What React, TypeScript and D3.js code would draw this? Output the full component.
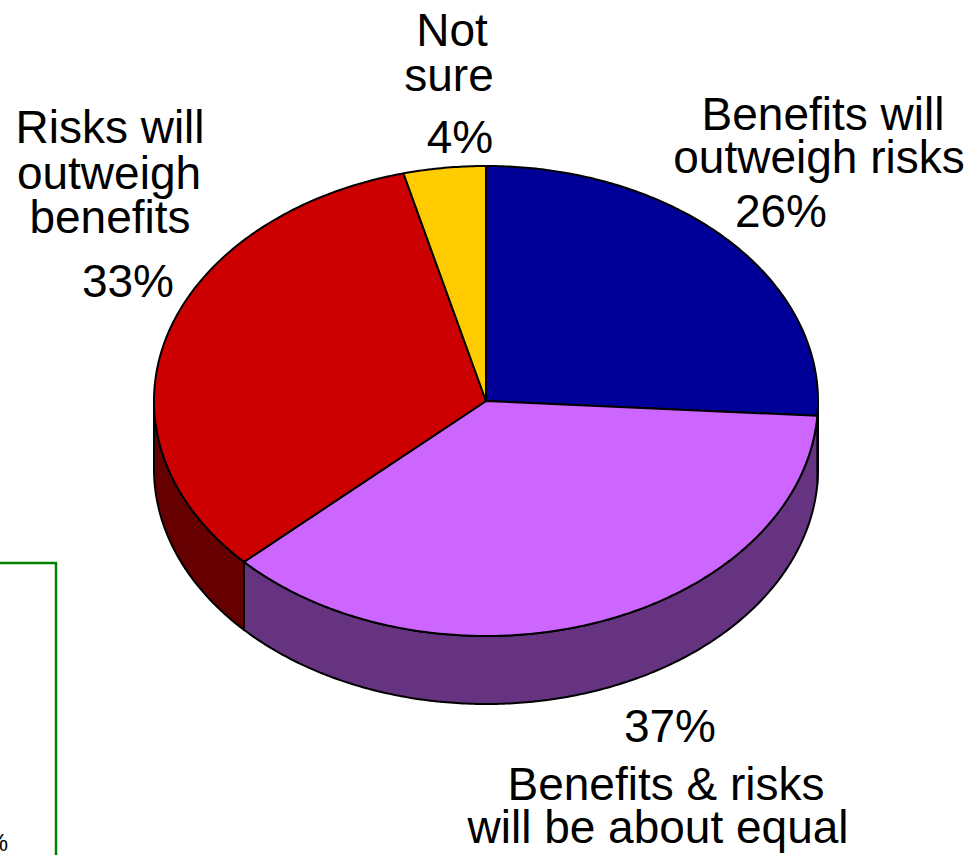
import React from "react";
import * as d3 from "d3";

const categories = [
  "Benefits will outweigh risks",
  "Benefits & risks will be about equal",
  "Risks will outweigh benefits",
  "Not sure",
];
const values = [26, 37, 33, 4];
const topColors = ["#000099", "#CC66FF", "#CC0000", "#FFCC00"];
const sideColors = ["#00004C", "#663380", "#660000", "#806600"];

type Label = { lines: string[]; x: number; ys: number[] };
const labels: Label[] = [
  { lines: ["Benefits will", "outweigh risks", "26%"], x: 0, ys: [] },
  { lines: ["37%", "Benefits & risks", "will be about equal"], x: 0, ys: [] },
  { lines: ["Risks will", "outweigh", "benefits", "33%"], x: 0, ys: [] },
  { lines: ["Not", "sure", "4%"], x: 0, ys: [] },
];
const labelPos = [
  { xs: [823, 819, 781], ys: [130, 173, 227] },
  { xs: [670, 666, 658], ys: [742, 800, 843] },
  { xs: [110, 109, 110, 128], ys: [143, 189, 233, 297] },
  { xs: [452, 449, 460], ys: [46, 91, 153] },
];

const W = 979;
const H = 855;
const cx = 486;
const cy = 401;
const rx = 332;
const ry = 235;
const depth = 68;

function pt(a: number, dy = 0): [number, number] {
  return [cx + rx * Math.sin(a), cy - ry * Math.cos(a) + dy];
}

function arcPts(a0: number, a1: number, dy = 0): [number, number][] {
  const n = Math.max(2, Math.ceil(Math.abs(a1 - a0) / 0.01));
  const s = d3.scaleLinear().domain([0, n]).range([a0, a1]);
  return d3.range(n + 1).map((i) => pt(s(i), dy));
}

export default function App() {
  const pie = d3.pie<number>().sort(null).value((d) => d);
  const arcs = pie(values);
  const line = d3.line();

  const sides = arcs.map((a, i) => {
    const s = Math.max(a.startAngle, Math.PI / 2);
    const e = Math.min(a.endAngle, (3 * Math.PI) / 2);
    if (e <= s) return null;
    const pts = [...arcPts(s, e, 0), ...arcPts(e, s, depth)];
    return (
      <path
        key={"s" + i}
        d={line(pts)! + "Z"}
        fill={sideColors[i]}
        stroke="#000"
        strokeWidth={2}
        strokeLinejoin="round"
      />
    );
  });

  const tops = arcs.map((a, i) => {
    const pts: [number, number][] = [[cx, cy], ...arcPts(a.startAngle, a.endAngle, 0)];
    return (
      <path
        key={"t" + i}
        d={line(pts)! + "Z"}
        fill={topColors[i]}
        stroke="#000"
        strokeWidth={2}
        strokeLinejoin="round"
      />
    );
  });

  return (
    <svg
      width={W}
      height={H}
      style={{ position: "absolute", left: 0, top: 0, background: "#fff" }}
      fontFamily="'Liberation Sans', Arial, sans-serif"
    >
      <rect x={-20} y={563} width={76} height={320} fill="none" stroke="#008000" strokeWidth={2.5} />
      <text x={8} y={851} fontSize={24} textAnchor="end" fill="#000">%</text>
      {sides}
      {tops}
      {labels.map((l, i) =>
        l.lines.map((t, j) => (
          <text
            key={i + "-" + j}
            x={labelPos[i].xs[j]}
            y={labelPos[i].ys[j]}
            fontSize={46}
            textAnchor="middle"
            fill="#000"
          >
            {t}
          </text>
        ))
      )}
    </svg>
  );
}
